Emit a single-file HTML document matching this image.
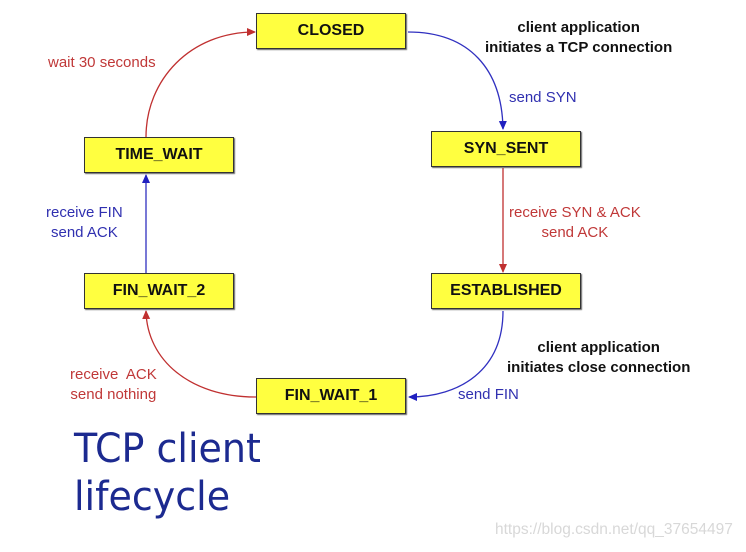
<!DOCTYPE html>
<html><head><meta charset="utf-8"><style>
body{margin:0;width:746px;height:552px;background:#fff;position:relative;overflow:hidden;font-family:"Liberation Sans",Arial,sans-serif}
.b{position:absolute;width:150px;height:36px;background:#ffff40;border:1.5px solid #333;box-shadow:1px 1px 1px #666;box-sizing:border-box;display:flex;align-items:center;justify-content:center;font-weight:bold;font-size:16px;color:#111}
.t{position:absolute;font-size:15px;text-align:center;line-height:20px;white-space:nowrap}
.r{color:#c03838}.bl{color:#3030b0}.k{color:#111;font-weight:bold}
</style></head><body>
<svg width="746" height="552" style="position:absolute;left:0;top:0">
<defs>
<marker id="ar" markerWidth="10" markerHeight="10" refX="8" refY="5" orient="auto" markerUnits="userSpaceOnUse"><path d="M0,1 L9,5 L0,9Z" fill="#c03030"/></marker>
<marker id="ab" markerWidth="10" markerHeight="10" refX="8" refY="5" orient="auto" markerUnits="userSpaceOnUse"><path d="M0,1 L9,5 L0,9Z" fill="#2020c0"/></marker>
</defs>
<path d="M408,32 C470,32 502,70 503,129" fill="none" stroke="#3030c0" stroke-width="1.3" marker-end="url(#ab)"/>
<line x1="503" y1="168" x2="503" y2="272" stroke="#c03030" stroke-width="1.3" marker-end="url(#ar)"/>
<path d="M503,311 C503,370 460,397 409,397" fill="none" stroke="#3030c0" stroke-width="1.3" marker-end="url(#ab)"/>
<path d="M256,397 C190,397 147,360 146,311" fill="none" stroke="#c03030" stroke-width="1.3" marker-end="url(#ar)"/>
<line x1="146" y1="273" x2="146" y2="175" stroke="#3030c0" stroke-width="1.3" marker-end="url(#ab)"/>
<path d="M146,137 C146,80 190,32 255,32" fill="none" stroke="#c03030" stroke-width="1.3" marker-end="url(#ar)"/>
</svg>
<div class="b" style="left:256px;top:13px">CLOSED</div>
<div class="b" style="left:431px;top:131px">SYN_SENT</div>
<div class="b" style="left:84px;top:137px">TIME_WAIT</div>
<div class="b" style="left:84px;top:273px">FIN_WAIT_2</div>
<div class="b" style="left:431px;top:273px">ESTABLISHED</div>
<div class="b" style="left:256px;top:378px">FIN_WAIT_1</div>
<div class="t k" style="left:485px;top:18px">client application<br>initiates a TCP connection</div>
<div class="t bl" style="left:509px;top:88px">send SYN</div>
<div class="t r" style="left:48px;top:53px">wait 30 seconds</div>
<div class="t bl" style="left:46px;top:203px">receive FIN<br>send ACK</div>
<div class="t r" style="left:509px;top:203px">receive SYN &amp; ACK<br>send ACK</div>
<div class="t k" style="left:507px;top:338px">client application<br>initiates close connection</div>
<div class="t bl" style="left:458px;top:385px">send FIN</div>
<div class="t r" style="left:70px;top:365px">receive&nbsp; ACK<br>send nothing</div>
<div style="position:absolute;left:74px;top:425px;font-family:'Comic Sans MS','DejaVu Sans',sans-serif;font-size:40px;line-height:48px;color:#1c2a90;transform:scaleX(0.95);transform-origin:0 0">TCP client<br>lifecycle</div>
<div style="position:absolute;left:495px;top:521px;font-size:15.5px;color:#d8d8d8">https://blog.csdn.net/qq_37654497</div>
</body></html>
